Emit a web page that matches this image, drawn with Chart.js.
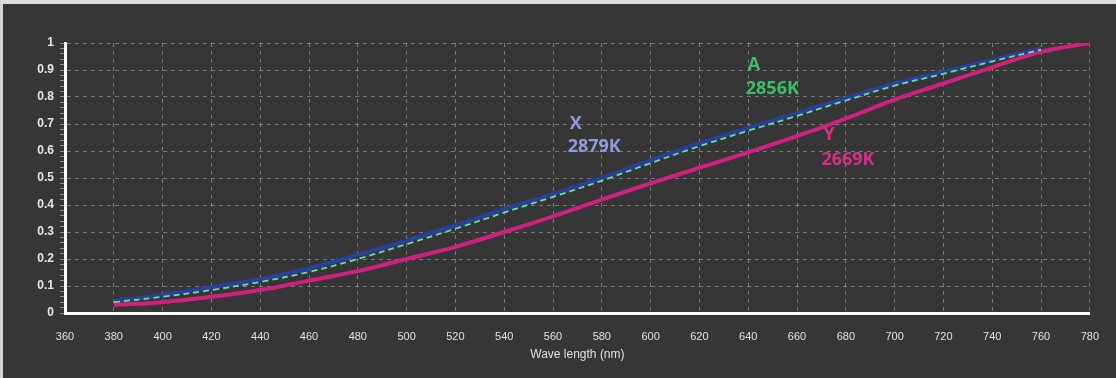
<!DOCTYPE html>
<html>
<head>
<meta charset="utf-8">
<script src="https://cdn.jsdelivr.net/npm/chart.js@4/dist/chart.umd.min.js"></script>
<style>
html, body { margin: 0; padding: 0; background: #363636; }
#wrap {
  width: 1113px; height: 374px;
  border-top: 4px solid #dedede;
  border-left: 3px solid #d4d4d4;
  background: #363636;
}
canvas { display: block; }
</style>
</head>
<body>
<div id="wrap"><canvas id="cie" width="1113" height="374"></canvas></div>
<script>
// wavelength (nm)
const wavelengths = [380,400,420,440,460,480,500,520,540,560,580,600,620,640,660,680,700,720,740,760,780];

// relative intensity
const xValues = [0.045,0.067,0.095,0.125,0.165,0.215,0.268,0.325,0.385,0.44,0.50,0.565,0.628,0.685,0.74,0.795,0.85,0.893,0.937,0.98,null];
const aValues = [0.04,0.06,0.085,0.115,0.152,0.20,0.255,0.312,0.372,0.43,0.49,0.555,0.618,0.675,0.73,0.787,0.842,0.886,0.932,0.975,null];
const yValues = [0.03,0.04,0.06,0.085,0.12,0.155,0.20,0.245,0.30,0.358,0.42,0.48,0.538,0.595,0.655,0.72,0.79,0.85,0.91,0.967,1.0];

const xTicks = [360,380,400,420,440,460,480,500,520,540,560,580,600,620,640,660,680,700,720,740,760,780];

// curve names and colour temperatures
const seriesNames = ["X","A","Y"];
const seriesTemps = ["2879K","2856K","2669K"];

const pts = vals => wavelengths.map((w,i) => ({x:w, y:vals[i]}));

// labels placed in data coordinates
const labelAnchors = [
  {nm:566, top:0.70, bottom:0.615, color:"#8f9cd8"},
  {nm:639, top:0.92, bottom:0.83, color:"#3dbd6c"},
  {nm:670, top:0.66, bottom:0.567, color:"#d62f86"}
];

const curveLabels = {
  id:"curveLabels",
  afterDatasetsDraw(chart){
    const {ctx, scales} = chart;
    ctx.save();
    ctx.font = "bold 18px 'Open Sans'";
    ctx.textAlign = "left";
    ctx.textBaseline = "middle";
    labelAnchors.forEach((a,i) => {
      const x = scales.x.getPixelForValue(a.nm);
      ctx.fillStyle = a.color;
      ctx.fillText(seriesNames[i], x + 2, scales.y.getPixelForValue(a.top));
      ctx.fillText(seriesTemps[i], x, scales.y.getPixelForValue(a.bottom));
    });
    ctx.restore();
  }
};

const isMajor = v => Math.abs(v*10 - Math.round(v*10)) < 1e-6;
const gridCol = "rgba(205,205,205,0.45)";

new Chart(document.getElementById("cie"),{
type:"line",
data:{
datasets:[
{label:"Y", data:pts(yValues), borderColor:"#d0217f", borderWidth:4, pointRadius:0, tension:0.35, order:3},
{label:"X", data:pts(xValues), borderColor:"#27409e", borderWidth:4, pointRadius:0, tension:0.35, order:2},
{label:"A", data:pts(aValues), borderColor:"#6ee090", borderWidth:1.8, borderDash:[6,4], pointRadius:0, tension:0.35, order:1}
]
},
options:{
responsive:false,
animation:false,
layout:{padding:{top:39, right:22, left:0, bottom:0}},
plugins:{legend:{display:false}, tooltip:{enabled:false}},
scales:{
x:{
type:"linear",
min:360, max:780,
afterBuildTicks(scale){ scale.ticks = xTicks.map(v => ({value:v})); },
afterFit(scale){ scale.height = 65; },
grid:{color:gridCol, lineWidth:1, drawTicks:false},
border:{color:"#ffffff", width:3, dash:[4,4]},
ticks:{color:"#e2e2e2", padding:17, maxRotation:0, autoSkip:false,
  font:{family:"'Liberation Sans Narrow','Liberation Sans'", size:11}},
title:{display:true, text:"Wave length (nm)", color:"#e0e0e0",
  font:{family:"'Liberation Sans'", size:12}, padding:{top:0, bottom:16}}
},
y:{
min:0, max:1,
ticks:{stepSize:0.02, color:"#e6e6e6", padding:6, autoSkip:false,
  font:{family:"'Liberation Sans Narrow','Liberation Sans'", size:12, weight:"bold"},
  callback:v => isMajor(v) ? String(Math.round(v*10)/10) : ""},
afterFit(scale){ scale.width = 62; },
grid:{
  color:ctx => isMajor(ctx.tick.value) && ctx.tick.value > 0 ? gridCol : "rgba(0,0,0,0)",
  tickColor:"rgba(200,200,200,0.6)", tickLength:5, lineWidth:1},
border:{color:"#ffffff", width:3, dash:[4,4]}
}
}
},
plugins:[curveLabels]
});
</script>
</body>
</html>
